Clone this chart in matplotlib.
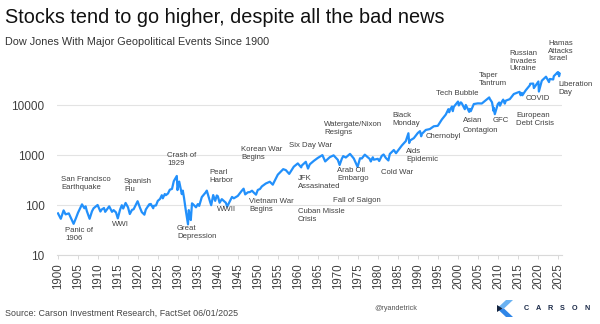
import matplotlib
matplotlib.use('Agg')
import matplotlib.pyplot as plt
from matplotlib.ticker import NullLocator, FixedLocator, FixedFormatter
from matplotlib.patches import Polygon

# ---------------- data ----------------
years = [1900.0, 1900.7, 1901.4, 1901.9, 1902.7, 1903.9, 1904.5, 1905.0, 1906.0, 1906.6,
         1906.9, 1907.2, 1907.9, 1908.5, 1908.9, 1909.9, 1910.6, 1910.9, 1911.5, 1911.8,
         1912.8, 1913.5, 1913.9, 1914.5, 1914.95, 1915.5, 1915.95, 1916.3, 1916.9, 1917.5,
         1917.95, 1918.5, 1918.9, 1919.9, 1920.5, 1920.95, 1921.6, 1921.95, 1922.8, 1922.95,
         1923.2, 1923.8, 1923.95, 1924.5, 1924.95, 1925.5, 1925.95, 1926.2, 1926.7, 1926.95,
         1927.5, 1927.95, 1928.5, 1928.95, 1929.7, 1929.87, 1930.3, 1930.95, 1931.2, 1931.5,
         1931.95, 1932.5, 1932.7, 1932.95, 1933.2, 1933.5, 1933.95, 1934.5, 1934.95, 1935.3,
         1935.95, 1936.95, 1937.2, 1937.95, 1938.3, 1938.8, 1939.3, 1939.7, 1939.95, 1940.4,
         1940.95, 1941.95, 1942.3, 1942.95, 1943.5, 1943.95, 1944.95, 1945.95, 1946.4, 1946.8,
         1947.5, 1947.95, 1948.5, 1948.95, 1949.5, 1949.95, 1950.5, 1950.95, 1951.95, 1952.95,
         1953.7, 1953.95, 1954.95, 1955.95, 1956.3, 1956.95, 1957.8, 1958.95, 1959.95, 1960.8,
         1960.95, 1961.95, 1962.5, 1962.95, 1963.95, 1964.95, 1966.1, 1966.8, 1967.95, 1968.9,
         1969.95, 1970.4, 1970.95, 1971.3, 1971.95, 1973.0, 1973.95, 1974.9, 1975.5, 1975.95,
         1976.7, 1977.95, 1978.2, 1978.7, 1978.95, 1979.95, 1980.3, 1980.95, 1981.4, 1981.95,
         1982.6, 1982.95, 1983.95, 1984.5, 1984.95, 1985.95, 1986.95, 1987.6, 1987.8, 1987.95,
         1988.95, 1989.95, 1990.5, 1990.8, 1990.95, 1991.95, 1992.95, 1993.95, 1994.95, 1995.95,
         1996.95, 1997.6, 1997.8, 1997.95, 1998.5, 1998.7, 1998.95, 2000.0, 2000.2, 2000.7,
         2000.95, 2001.7, 2001.95, 2002.8, 2002.95, 2003.2, 2003.95, 2004.95, 2005.95, 2006.95,
         2007.8, 2007.95, 2008.5, 2008.9, 2008.95, 2009.2, 2009.95, 2010.3, 2010.5, 2010.95,
         2011.3, 2011.7, 2011.95, 2012.95, 2013.95, 2014.95, 2015.4, 2015.65, 2015.95, 2016.1,
         2016.95, 2017.95, 2018.05, 2018.8, 2018.97, 2019.95, 2020.1, 2020.22, 2020.95, 2021.95,
         2022.0, 2022.75, 2022.95, 2023.8, 2023.95, 2024.9, 2024.97, 2025.1, 2025.27, 2025.42]

dow = [68, 53, 78, 65, 68, 42, 55, 70, 103, 86,
       94, 76, 53, 75, 86, 100, 74, 81, 87, 73,
       94, 73, 79, 71, 54, 80, 99, 85, 110, 90,
       66, 80, 82, 119, 88, 72, 64, 81, 103, 99,
       105, 86, 96, 98, 121, 132, 157, 136, 166, 157,
       170, 202, 210, 300, 381, 199, 294, 165, 194, 140,
       78, 41, 79, 60, 50, 108, 100, 90, 104, 96,
       144, 180, 194, 121, 99, 158, 121, 155, 150, 111,
       131, 111, 93, 119, 145, 136, 152, 193, 212, 163,
       180, 181, 193, 177, 161, 200, 209, 235, 269, 292,
       255, 281, 404, 488, 521, 499, 419, 584, 679, 566,
       616, 731, 535, 652, 763, 874, 995, 744, 905, 985,
       800, 631, 839, 950, 890, 1052, 851, 577, 860, 852,
       1015, 831, 742, 900, 805, 839, 759, 964, 1024, 875,
       777, 1047, 1259, 1087, 1212, 1547, 1896, 2722, 1738, 1939,
       2169, 2753, 2999, 2365, 2634, 3169, 3301, 3754, 3834, 5117,
       6448, 8259, 7161, 7908, 9338, 7539, 9181, 11723, 9796, 11310,
       10787, 8236, 10022, 7286, 8342, 7524, 10454, 10783, 10718, 12463,
       14164, 13265, 11350, 7552, 8776, 6547, 10428, 11205, 9686, 11578,
       12810, 10655, 12218, 13104, 16577, 17823, 18312, 15666, 17425, 15660,
       19763, 24719, 26617, 26828, 21792, 28538, 29551, 18592, 30606, 36338,
       36800, 28725, 33147, 32417, 37690, 45014, 42544, 44800, 37645, 42270]

ytick_values = [10, 100, 1000, 10000]
ytick_labels = ["10", "100", "1000", "10000"]
xtick_years = list(range(1900, 2026, 5))

events = [
    "San Francisco\nEarthquake", "Panic of\n1906", "Spanish\nFlu", "WWI", "Crash of\n1929",
    "Great\nDepression", "Pearl\nHarbor", "WWII", "Korean War\nBegins", "Vietnam War\nBegins",
    "Six Day War", "JFK\nAssasinated", "Cuban Missle\nCrisis", "Watergate/Nixon\nResigns",
    "Arab Oil\nEmbargo", "Fall of Saigon", "Cold War", "Black\nMonday", "Aids\nEpidemic",
    "Chernobyl", "Tech Bubble", "Asian", "Contagion", "GFC", "Taper\nTantrum",
    "European\nDebt Crisis", "Russian\nInvades\nUkraine", "COVID", "Hamas\nAttacks\nIsrael",
    "Liberation\nDay",
]
# label anchor positions (pixels from top-left of the figure)
event_px = [61, 65, 124, 112, 167, 177, 209, 217, 241, 249,
            289, 298, 298, 324, 337, 333, 381, 392, 406,
            426, 436, 463, 463, 493, 479, 516, 509, 526, 548, 558]
event_py = [176, 227, 178, 221, 152, 225, 169, 206, 146, 198,
            142, 175, 208, 121, 167, 197, 169, 112, 148,
            133, 90, 117, 126.5, 117.5, 72, 112, 50, 95, 40, 81]

# ---------------- figure ----------------
W, H = 600, 324
plt.rcParams['font.family'] = ['Liberation Sans', 'DejaVu Sans']
fig = plt.figure(figsize=(W / 100, H / 100), dpi=100)
fig.patch.set_facecolor('white')

def fx(px):
    return px / W

def fy(py):
    return 1 - py / H

ax_l, ax_r, ax_t, ax_b = 57, 562, 55, 255
ax = fig.add_axes([fx(ax_l), fy(ax_b), (ax_r - ax_l) / W, (ax_b - ax_t) / H])
ax.plot(years, dow, color='#2290fb', lw=1.6, solid_joinstyle='round', zorder=3)
ax.set_yscale('log')
ax.set_xlim(1899.75, 2026.0)
ax.set_ylim(10, 100000)

ax.yaxis.set_major_locator(FixedLocator(ytick_values))
ax.yaxis.set_major_formatter(FixedFormatter(ytick_labels))
ax.yaxis.set_minor_locator(NullLocator())
ax.set_xticks(xtick_years)
ax.set_xticklabels([str(y) for y in xtick_years], rotation=90)

for s in ['top', 'right', 'left']:
    ax.spines[s].set_visible(False)
ax.spines['bottom'].set_color('#d9d9d9')
ax.spines['bottom'].set_linewidth(0.8)
ax.grid(axis='y', color='#e3e3e3', lw=0.8, zorder=0)
ax.tick_params(axis='y', length=0, pad=9, labelsize=8.5, labelcolor='#404040')
ax.tick_params(axis='x', length=3, width=0.7, color='#d9d9d9', pad=3,
               labelsize=8.3, labelcolor='#404040')

# title / subtitle
fig.text(fx(5), fy(8), "Stocks tend to go higher, despite all the bad news",
         fontsize=14.3, color='#111111', va='top', ha='left')
fig.text(fx(5), fy(37), "Dow Jones With Major Geopolitical Events Since 1900",
         fontsize=7.8, color='#333333', va='top', ha='left')

# event labels
for lab, px, py in zip(events, event_px, event_py):
    fig.text(fx(px), fy(py), lab, fontsize=5.6, color='#404040',
             va='top', ha='left', linespacing=1.15)

# footer
fig.text(fx(5), fy(313), "Source: Carson Investment Research, FactSet 06/01/2025",
         fontsize=6.4, color='#444444', va='center', ha='left')
fig.text(fx(396), fy(308), "@ryandetrick", fontsize=5.2, color='#555555',
         va='center', ha='center')

# logo
lax = fig.add_axes([0, 0, 1, 1], zorder=5)
lax.set_xlim(0, W)
lax.set_ylim(H, 0)
lax.axis('off')
lax.add_patch(Polygon([(506, 300), (513, 300), (504, 308.5), (497, 308.5)],
                      closed=True, color='#6ab2f2', lw=0))
lax.add_patch(Polygon([(497, 308.5), (504, 308.5), (513, 317), (506, 317)],
                      closed=True, color='#2f86e8', lw=0))
lax.add_patch(Polygon([(497, 305), (502.5, 308.5), (497, 312)],
                      closed=True, color='#15243f', lw=0))
for i, ch in enumerate("CARSON"):
    lax.text(526 + i * 12.2, 308, ch, fontsize=5.2, fontweight='bold',
             color='#1b2a48', ha='center', va='center')

fig.savefig('out.png', dpi=100, facecolor='white')
